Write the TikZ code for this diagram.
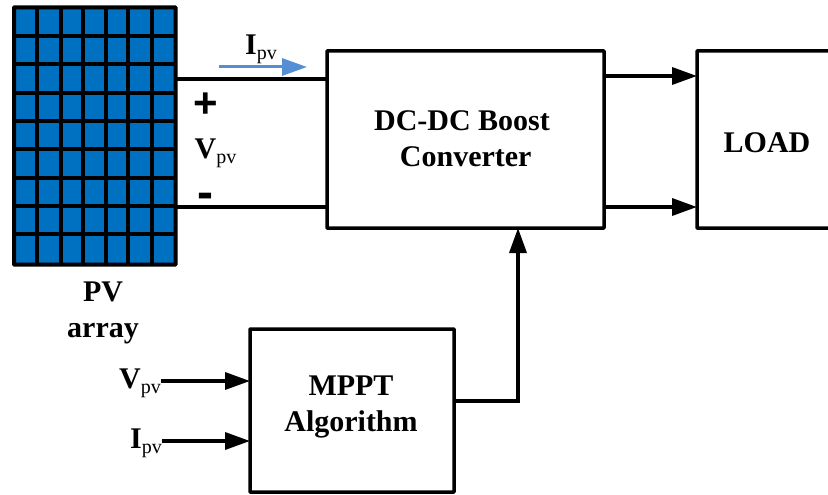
\documentclass[tikz,border=0pt]{standalone}
\usepackage{fontspec}
\setmainfont{Liberation Serif}
\newfontfamily\signfont{Liberation Sans}
\usetikzlibrary{arrows.meta}
\definecolor{panelblue}{HTML}{0070C0}
\definecolor{currentblue}{HTML}{558ED5}
\newcommand{\bigtxt}{\fontsize{30}{36}\selectfont\bfseries}
\newcommand{\Pv}[1]{{\fontsize{30}{30}\selectfont\bfseries #1}\raisebox{-5pt}{\fontsize{20}{20}\selectfont pv}}
\tikzset{
  block/.style={draw=black,line width=3.5pt,fill=white,inner sep=0pt,outer sep=0pt,rounded corners=0.5pt},
  wire/.style={draw=black,line width=3.5pt},
  flow/.style={wire,-{Triangle[length=25pt,width=17pt]}},
  label/.style={inner sep=0pt,align=center,text=black},
  textblock/.style={label,font=\bigtxt},
  current/.style={draw=currentblue,line width=3pt,-{Triangle[length=25pt,width=17pt]}},
  gridline/.style={draw=black,line width=4pt}
}
\begin{document}
\begin{tikzpicture}[x=1pt,y=-1pt]
\useasboundingbox (0,0) rectangle (828,495);
\clip (0,0) rectangle (828,495);
% PV array
\node[block,fill=panelblue,line width=4pt,minimum width=161.5pt,minimum height=257pt,anchor=north west] (pv) at (14,7.5) {};
\foreach \gx in {36.7,60.5,83,105.5,128.3,151.7}
  \draw[gridline] (\gx,7.5) -- (\gx,264.5);
\foreach \gy in {35.7,64,92.7,121,149.3,177.7,206,234.3}
  \draw[gridline] (14,\gy) -- (175.5,\gy);
% Blocks
\node[block,minimum width=277pt,minimum height=177pt,anchor=north west] (dc) at (327,51) {};
\node[block,minimum width=160pt,minimum height=177pt,anchor=north west] (load) at (697,51) {};
\node[block,minimum width=204pt,minimum height=163pt,anchor=north west] (mppt) at (250,329) {};
% Routing levels
\coordinate (upper) at (0,79);
\coordinate (lower) at (0,207);
\coordinate (outupper) at (0,76);
\coordinate (feed) at (518,401);
\node[label,anchor=east] (vin) at (161,383) {\Pv{V}};
\node[label,anchor=east] (iin) at (162,443) {\Pv{I}};
\coordinate (vinlevel) at (0,381);
\coordinate (iinlevel) at (0,441);
% Connectors
\draw[wire] (pv.east |- upper) -- (dc.west |- upper);
\draw[wire] (pv.east |- lower) -- (dc.west |- lower);
\draw[flow] (dc.east |- outupper) -- (load.west |- outupper);
\draw[flow] (dc.east |- lower) -- (load.west |- lower);
\draw[flow] (vin.east |- vinlevel) -- (mppt.west |- vinlevel);
\draw[flow] (iin.east |- iinlevel) -- (mppt.west |- iinlevel);
\draw[flow] (mppt.east |- feed) -- (feed) -- (feed |- dc.south);
\coordinate (cstart) at (219,67);
\coordinate (cend) at (307,67);
\draw[current] (cstart) -- (cend);
% Labels
\node[label] (ilabel) at (261,49) {\Pv{I}};
\node[label] (vlabel) at (215.5,153) {\Pv{V}};
\node[label] (plus) at (206,105) {\fontsize{42}{42}\selectfont\signfont\bfseries +};
\node[label] (minus) at (205.5,201) {\fontsize{48}{48}\selectfont\signfont\bfseries -};
\node[textblock] (dctext) at (462,139) {DC-DC Boost\\\ Converter};
\node[textblock] (loadtext) at (767,143) {LOAD};
\node[textblock] (pvtext) at (103,313) {PV\\array};
\node[textblock] (mppttext) at (351,407) {MPPT\\Algorithm};
\end{tikzpicture}
\end{document}
